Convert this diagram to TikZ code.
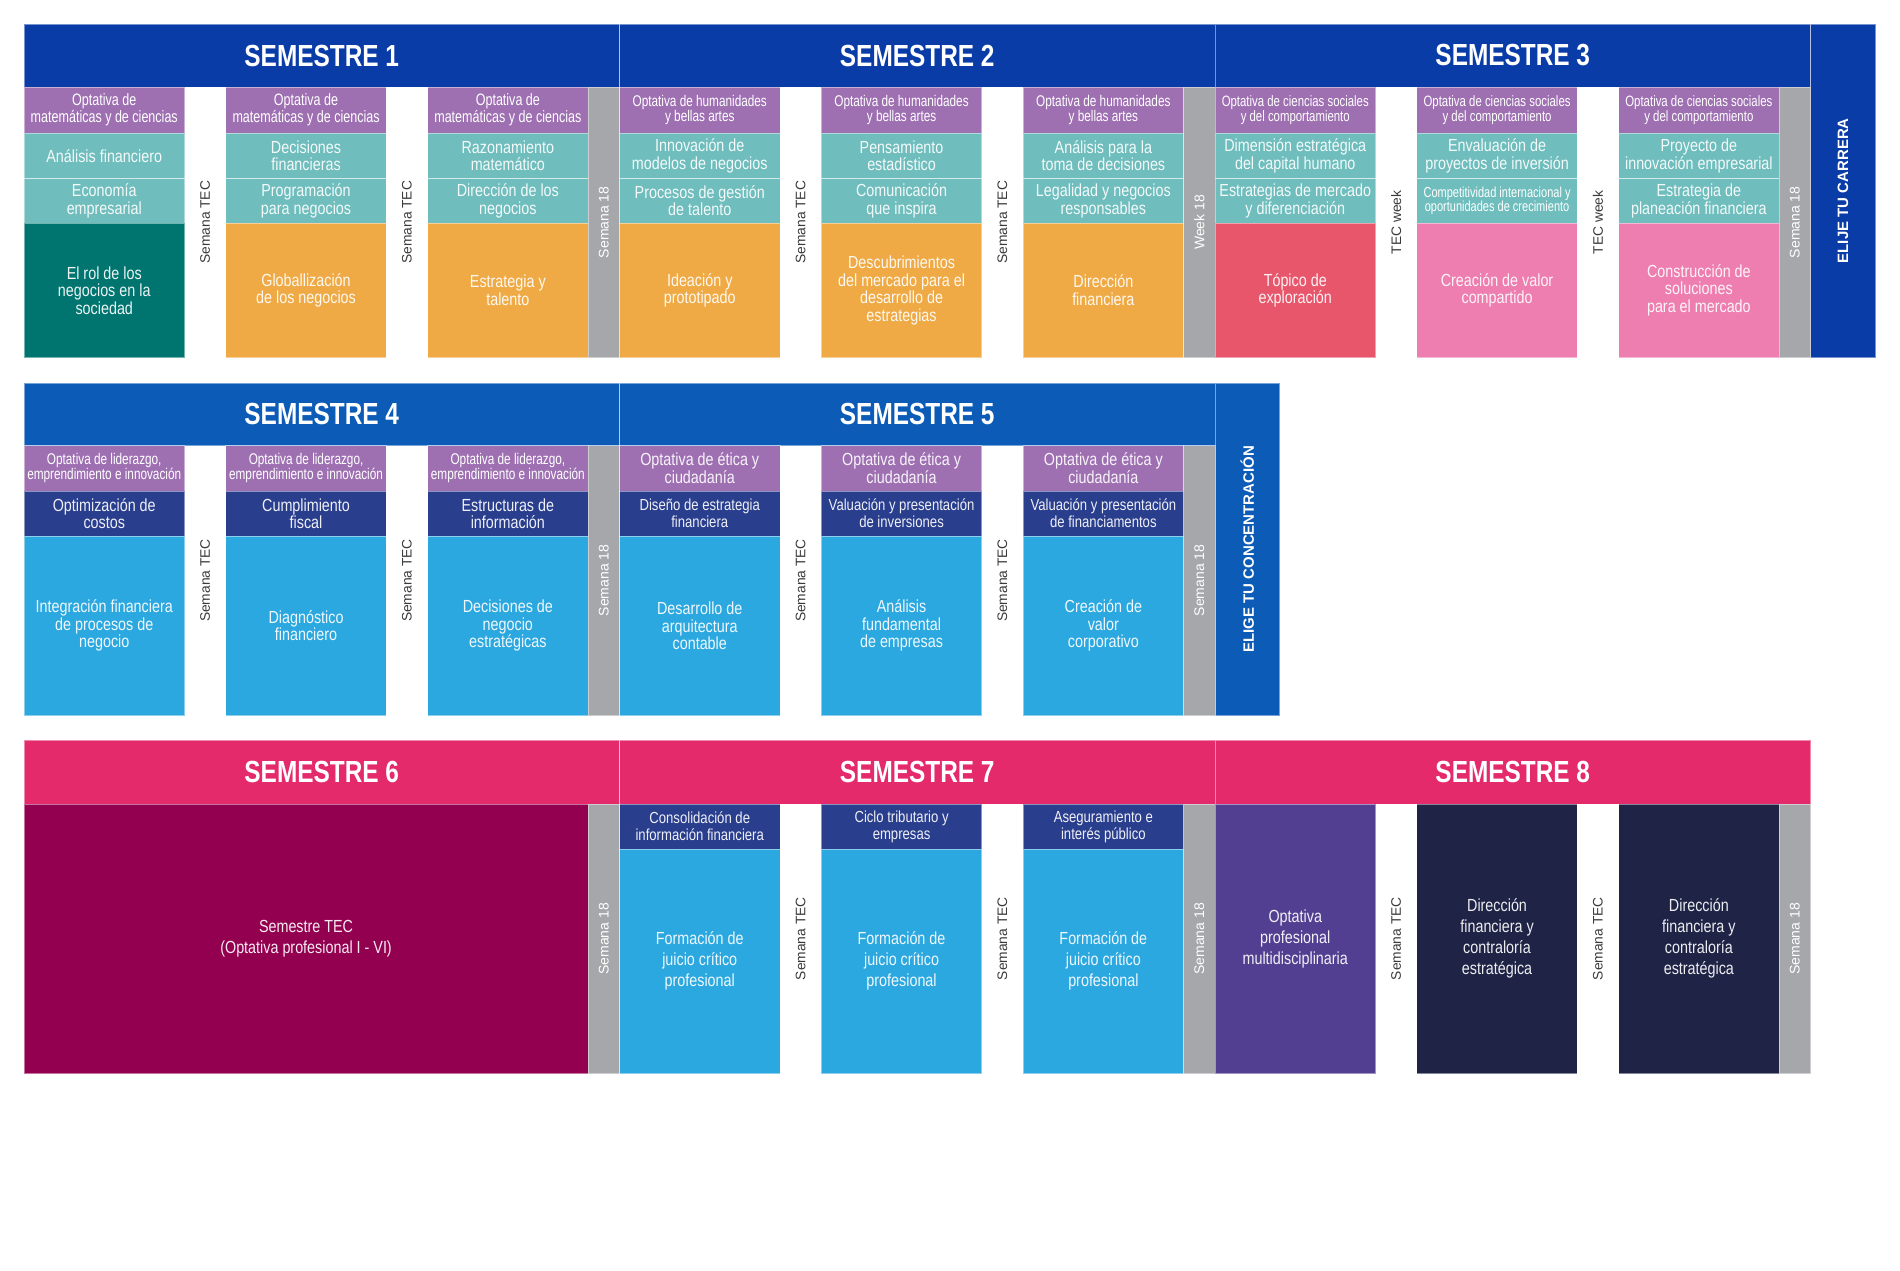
\documentclass[tikz,border=0pt]{standalone}
\usepackage{fontspec}
\setmainfont{Liberation Sans}
\newfontfamily\cellfont{Liberation Sans}[FakeStretch=0.82]
\newfontfamily\elecfont{Liberation Sans}[FakeStretch=0.76]
\newfontfamily\hdrfont{Liberation Sans}[FakeStretch=0.8]
\newfontfamily\plainfont{Liberation Sans}
\definecolor{cHdrA}{HTML}{0A3CA8}
\definecolor{cHdrB}{HTML}{0B5BB7}
\definecolor{cHdrC}{HTML}{E42A6A}
\definecolor{cPurple}{HTML}{9E70B2}
\definecolor{cTeal}{HTML}{6FBDBD}
\definecolor{cTealD}{HTML}{007570}
\definecolor{cOrange}{HTML}{EFAA45}
\definecolor{cGrey}{HTML}{A5A7AA}
\definecolor{cRed}{HTML}{E8566C}
\definecolor{cPink}{HTML}{EE7DB0}
\definecolor{cNavy}{HTML}{2A3E8E}
\definecolor{cSky}{HTML}{2CA8E0}
\definecolor{cWine}{HTML}{930050}
\definecolor{cViolet}{HTML}{533F91}
\definecolor{cDark}{HTML}{1F2447}
\definecolor{cGapText}{HTML}{3A3A3A}
\tikzset{
 cellbase/.style={rectangle, inner sep=0pt, outer sep=0pt, draw=white, draw opacity=0.45, line width=1pt, text=white, align=center},
 hdrbox/.style={cellbase, font=\hdrfont\bfseries\fontsize{30.5}{30.5}\selectfont},
 elecbig/.style={cellbase, font=\elecfont\fontsize{16.5}{15.5}\selectfont},
 elecbox/.style={cellbase, font=\elecfont\fontsize{15.5}{15}\selectfont},
 elecmid/.style={cellbase, font=\elecfont\fontsize{15}{15}\selectfont},
 elecsmall/.style={cellbase, font=\elecfont\fontsize{14.5}{14.5}\selectfont},
 crsbox/.style={cellbase, text opacity=0.92, font=\cellfont\fontsize{17.5}{17.5}\selectfont},
 crsnarrow/.style={cellbase, text opacity=0.92, font=\cellfont\fontsize{16}{17}\selectfont},
 crsloose/.style={cellbase, text opacity=0.92, font=\cellfont\fontsize{17.5}{21}\selectfont},
 plainbox/.style={cellbase},
 gaplabel/.style={rotate=90, inner sep=0pt, text=cGapText, font=\plainfont\fontsize{13.8}{14}\selectfont},
 greylabel/.style={rotate=90, inner sep=0pt, text=white, font=\plainfont\fontsize{14}{14}\selectfont},
 sidelabel/.style={rotate=90, inner sep=0pt, text=white, font=\plainfont\bfseries\fontsize{15}{15}\selectfont}
}
\newcommand\mkcell[8]{\node[#7,fill=#6,minimum width={(#4-#2)*1pt},minimum height={(#5-#3)*1pt}] (#1) at ({(#2+#4)/2},{(#3+#5)/2}) {#8};}
\begin{document}
\begin{tikzpicture}[x=1pt,y=-1pt]
\useasboundingbox (0,0) rectangle (1900,1270);
\fill[white] (0,0) rectangle (1900,1270);
% ================= ROW 1 =================
\mkcell{h1}{24}{24}{619.5}{87}{cHdrA}{hdrbox}{SEMESTRE 1}
\mkcell{h2}{619.5}{24}{1215}{87}{cHdrA}{hdrbox}{SEMESTRE 2}
\mkcell{h3}{1215}{24}{1810.5}{87}{cHdrA}{hdrbox}{SEMESTRE 3}
\mkcell{side1}{1810.5}{24}{1875.5}{357.5}{cHdrA}{plainbox}{}
\node[sidelabel] (side1t) at (side1.center) {ELIJE TU CARRERA};
% Semestre 1
\mkcell{e1a}{24}{87}{184.5}{133}{cPurple}{elecbig}{Optativa de\\matemáticas y de ciencias}
\mkcell{t1a}{24}{133}{184.5}{178.5}{cTeal}{crsbox}{Análisis financiero}
\mkcell{u1a}{24}{178.5}{184.5}{223}{cTeal}{crsbox}{Economía\\empresarial}
\mkcell{m1a}{24}{223}{184.5}{357.5}{cTealD}{crsbox}{El rol de los\\negocios en la\\sociedad}
\mkcell{e1b}{225.8}{87}{386.3}{133}{cPurple}{elecbig}{Optativa de\\matemáticas y de ciencias}
\mkcell{t1b}{225.8}{133}{386.3}{178.5}{cTeal}{crsbox}{Decisiones\\financieras}
\mkcell{u1b}{225.8}{178.5}{386.3}{223}{cTeal}{crsbox}{Programación\\para negocios}
\mkcell{m1b}{225.8}{223}{386.3}{357.5}{cOrange}{crsbox}{Globallización\\de los negocios}
\mkcell{e1c}{427.6}{87}{588.1}{133}{cPurple}{elecbig}{Optativa de\\matemáticas y de ciencias}
\mkcell{t1c}{427.6}{133}{588.1}{178.5}{cTeal}{crsbox}{Razonamiento\\matemático}
\mkcell{u1c}{427.6}{178.5}{588.1}{223}{cTeal}{crsbox}{Dirección de los\\negocios}
\mkcell{m1c}{427.6}{223}{588.1}{357.5}{cOrange}{crsbox}{Estrategia y\\talento}
\mkcell{g1}{588.1}{87}{619.5}{357.5}{cGrey}{plainbox}{}
\node[greylabel] (g1t) at (g1.center) {Semana 18};
\node[gaplabel] (s1x) at (205.15,222.25) {Semana TEC};
\node[gaplabel] (s1y) at (406.95,222.25) {Semana TEC};
% Semestre 2
\mkcell{e2a}{619.5}{87}{780}{133}{cPurple}{elecbox}{Optativa de humanidades\\y bellas artes}
\mkcell{t2a}{619.5}{133}{780}{178.5}{cTeal}{crsbox}{Innovación de\\modelos de negocios}
\mkcell{u2a}{619.5}{178.5}{780}{223}{cTeal}{crsbox}{Procesos de gestión\\de talento}
\mkcell{m2a}{619.5}{223}{780}{357.5}{cOrange}{crsbox}{Ideación y\\prototipado}
\mkcell{e2b}{821.3}{87}{981.8}{133}{cPurple}{elecbox}{Optativa de humanidades\\y bellas artes}
\mkcell{t2b}{821.3}{133}{981.8}{178.5}{cTeal}{crsbox}{Pensamiento\\estadístico}
\mkcell{u2b}{821.3}{178.5}{981.8}{223}{cTeal}{crsbox}{Comunicación\\que inspira}
\mkcell{m2b}{821.3}{223}{981.8}{357.5}{cOrange}{crsbox}{Descubrimientos\\del mercado para el\\desarrollo de\\estrategias}
\mkcell{e2c}{1023.1}{87}{1183.6}{133}{cPurple}{elecbox}{Optativa de humanidades\\y bellas artes}
\mkcell{t2c}{1023.1}{133}{1183.6}{178.5}{cTeal}{crsbox}{Análisis para la\\toma de decisiones}
\mkcell{u2c}{1023.1}{178.5}{1183.6}{223}{cTeal}{crsbox}{Legalidad y negocios\\responsables}
\mkcell{m2c}{1023.1}{223}{1183.6}{357.5}{cOrange}{crsbox}{Dirección\\financiera}
\mkcell{g2}{1183.6}{87}{1215}{357.5}{cGrey}{plainbox}{}
\node[greylabel] (g2t) at (g2.center) {Week 18};
\node[gaplabel] (s2x) at (800.65,222.25) {Semana TEC};
\node[gaplabel] (s2y) at (1002.45,222.25) {Semana TEC};
% Semestre 3
\mkcell{e3a}{1215}{87}{1375.5}{133}{cPurple}{elecmid}{Optativa de ciencias sociales\\y del comportamiento}
\mkcell{t3a}{1215}{133}{1375.5}{178.5}{cTeal}{crsbox}{Dimensión estratégica\\del capital humano}
\mkcell{u3a}{1215}{178.5}{1375.5}{223}{cTeal}{crsbox}{Estrategias de mercado\\y diferenciación}
\mkcell{m3a}{1215}{223}{1375.5}{357.5}{cRed}{crsbox}{Tópico de\\exploración}
\mkcell{e3b}{1416.8}{87}{1577.3}{133}{cPurple}{elecmid}{Optativa de ciencias sociales\\y del comportamiento}
\mkcell{t3b}{1416.8}{133}{1577.3}{178.5}{cTeal}{crsbox}{Envaluación de\\proyectos de inversión}
\mkcell{u3b}{1416.8}{178.5}{1577.3}{223}{cTeal}{elecsmall}{Competitividad internacional y\\oportunidades de crecimiento}
\mkcell{m3b}{1416.8}{223}{1577.3}{357.5}{cPink}{crsbox}{Creación de valor\\compartido}
\mkcell{e3c}{1618.6}{87}{1779.1}{133}{cPurple}{elecmid}{Optativa de ciencias sociales\\y del comportamiento}
\mkcell{t3c}{1618.6}{133}{1779.1}{178.5}{cTeal}{crsbox}{Proyecto de\\innovación empresarial}
\mkcell{u3c}{1618.6}{178.5}{1779.1}{223}{cTeal}{crsbox}{Estrategia de\\planeación financiera}
\mkcell{m3c}{1618.6}{223}{1779.1}{357.5}{cPink}{crsbox}{Construcción de\\soluciones\\para el mercado}
\mkcell{g3}{1779.1}{87}{1810.5}{357.5}{cGrey}{plainbox}{}
\node[greylabel] (g3t) at (g3.center) {Semana 18};
\node[gaplabel] (s3x) at (1396.15,222.25) {TEC week};
\node[gaplabel] (s3y) at (1597.95,222.25) {TEC week};
% ================= ROW 2 =================
\mkcell{h4}{24}{383}{619.5}{445.5}{cHdrB}{hdrbox}{SEMESTRE 4}
\mkcell{h5}{619.5}{383}{1215}{445.5}{cHdrB}{hdrbox}{SEMESTRE 5}
\mkcell{side2}{1215}{383}{1279.5}{715.5}{cHdrB}{plainbox}{}
\node[sidelabel] (side2t) at (side2.center) {ELIGE TU CONCENTRACIÓN};
% Semestre 4
\mkcell{e4a}{24}{445.5}{184.5}{491}{cPurple}{elecbox}{Optativa de liderazgo,\\emprendimiento e innovación}
\mkcell{n4a}{24}{491}{184.5}{536}{cNavy}{crsbox}{Optimización de\\costos}
\mkcell{m4a}{24}{536}{184.5}{715.5}{cSky}{crsbox}{Integración financiera\\de procesos de\\negocio}
\mkcell{e4b}{225.8}{445.5}{386.3}{491}{cPurple}{elecbox}{Optativa de liderazgo,\\emprendimiento e innovación}
\mkcell{n4b}{225.8}{491}{386.3}{536}{cNavy}{crsbox}{Cumplimiento\\fiscal}
\mkcell{m4b}{225.8}{536}{386.3}{715.5}{cSky}{crsbox}{Diagnóstico\\financiero}
\mkcell{e4c}{427.6}{445.5}{588.1}{491}{cPurple}{elecbox}{Optativa de liderazgo,\\emprendimiento e innovación}
\mkcell{n4c}{427.6}{491}{588.1}{536}{cNavy}{crsbox}{Estructuras de\\información}
\mkcell{m4c}{427.6}{536}{588.1}{715.5}{cSky}{crsbox}{Decisiones de\\negocio\\estratégicas}
\mkcell{g4}{588.1}{445.5}{619.5}{715.5}{cGrey}{plainbox}{}
\node[greylabel] (g4t) at (g4.center) {Semana 18};
\node[gaplabel] (s4x) at (205.15,580.5) {Semana TEC};
\node[gaplabel] (s4y) at (406.95,580.5) {Semana TEC};
% Semestre 5
\mkcell{e5a}{619.5}{445.5}{780}{491}{cPurple}{crsbox}{Optativa de ética y\\ciudadanía}
\mkcell{n5a}{619.5}{491}{780}{536}{cNavy}{crsnarrow}{Diseño de estrategia\\financiera}
\mkcell{m5a}{619.5}{536}{780}{715.5}{cSky}{crsbox}{Desarrollo de\\arquitectura\\contable}
\mkcell{e5b}{821.3}{445.5}{981.8}{491}{cPurple}{crsbox}{Optativa de ética y\\ciudadanía}
\mkcell{n5b}{821.3}{491}{981.8}{536}{cNavy}{crsnarrow}{Valuación y presentación\\de inversiones}
\mkcell{m5b}{821.3}{536}{981.8}{715.5}{cSky}{crsbox}{Análisis\\fundamental\\de empresas}
\mkcell{e5c}{1023.1}{445.5}{1183.6}{491}{cPurple}{crsbox}{Optativa de ética y\\ciudadanía}
\mkcell{n5c}{1023.1}{491}{1183.6}{536}{cNavy}{crsnarrow}{Valuación y presentación\\de financiamentos}
\mkcell{m5c}{1023.1}{536}{1183.6}{715.5}{cSky}{crsbox}{Creación de\\valor\\corporativo}
\mkcell{g5}{1183.6}{445.5}{1215}{715.5}{cGrey}{plainbox}{}
\node[greylabel] (g5t) at (g5.center) {Semana 18};
\node[gaplabel] (s5x) at (800.65,580.5) {Semana TEC};
\node[gaplabel] (s5y) at (1002.45,580.5) {Semana TEC};
% ================= ROW 3 =================
\mkcell{h6}{24}{740}{619.5}{804}{cHdrC}{hdrbox}{SEMESTRE 6}
\mkcell{h7}{619.5}{740}{1215}{804}{cHdrC}{hdrbox}{SEMESTRE 7}
\mkcell{h8}{1215}{740}{1810.5}{804}{cHdrC}{hdrbox}{SEMESTRE 8}
% Semestre 6
\mkcell{m6}{24}{804}{588.1}{1073.5}{cWine}{crsloose}{Semestre TEC\\(Optativa profesional I - VI)}
\mkcell{g6}{588.1}{804}{619.5}{1073.5}{cGrey}{plainbox}{}
\node[greylabel] (g6t) at (g6.center) {Semana 18};
% Semestre 7
\mkcell{n7a}{619.5}{804}{780}{849}{cNavy}{crsnarrow}{Consolidación de\\información financiera}
\mkcell{m7a}{619.5}{849}{780}{1073.5}{cSky}{crsloose}{Formación de\\juicio crítico\\profesional}
\mkcell{n7b}{821.3}{804}{981.8}{849}{cNavy}{crsnarrow}{Ciclo tributario y\\empresas}
\mkcell{m7b}{821.3}{849}{981.8}{1073.5}{cSky}{crsloose}{Formación de\\juicio crítico\\profesional}
\mkcell{n7c}{1023.1}{804}{1183.6}{849}{cNavy}{crsnarrow}{Aseguramiento e\\interés público}
\mkcell{m7c}{1023.1}{849}{1183.6}{1073.5}{cSky}{crsloose}{Formación de\\juicio crítico\\profesional}
\mkcell{g7}{1183.6}{804}{1215}{1073.5}{cGrey}{plainbox}{}
\node[greylabel] (g7t) at (g7.center) {Semana 18};
\node[gaplabel] (s7x) at (800.65,938.75) {Semana TEC};
\node[gaplabel] (s7y) at (1002.45,938.75) {Semana TEC};
% Semestre 8
\mkcell{m8a}{1215}{804}{1375.5}{1073.5}{cViolet}{crsloose}{Optativa\\profesional\\multidisciplinaria}
\mkcell{m8b}{1416.8}{804}{1577.3}{1073.5}{cDark}{crsloose}{Dirección\\financiera y\\contraloría\\estratégica}
\mkcell{m8c}{1618.6}{804}{1779.1}{1073.5}{cDark}{crsloose}{Dirección\\financiera y\\contraloría\\estratégica}
\mkcell{g8}{1779.1}{804}{1810.5}{1073.5}{cGrey}{plainbox}{}
\node[greylabel] (g8t) at (g8.center) {Semana 18};
\node[gaplabel] (s8x) at (1396.15,938.75) {Semana TEC};
\node[gaplabel] (s8y) at (1597.95,938.75) {Semana TEC};
\end{tikzpicture}
\end{document}
